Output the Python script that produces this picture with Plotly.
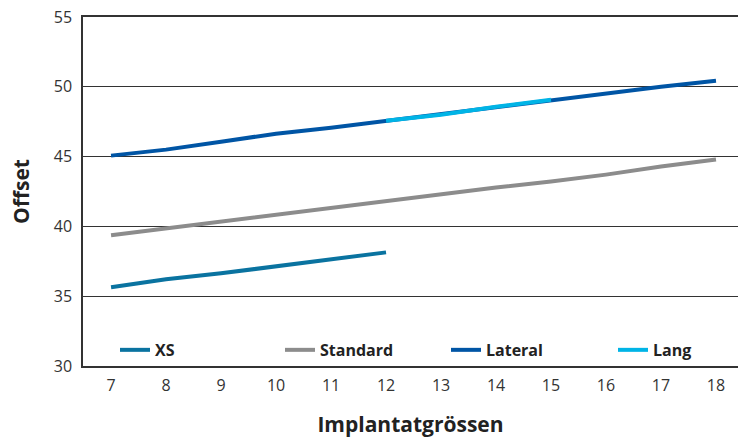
import plotly.graph_objects as go

sizes = [7, 8, 9, 10, 11, 12, 13, 14, 15, 16, 17, 18]
xs_sizes = [7, 8, 9, 10, 11, 12]
xs_vals = [35.64, 36.21, 36.64, 37.14, 37.57, 38.14]
standard_vals = [39.36, 39.86, 40.36, 40.86, 41.29, 41.79, 42.29, 42.79, 43.21, 43.71, 44.29, 44.79]
lateral_vals = [45.07, 45.5, 46.07, 46.64, 47.07, 47.57, 48.0, 48.57, 49.07, 49.57, 50.0, 50.43]
lang_sizes = [12, 13, 14, 15]
lang_vals = [47.57, 48.0, 48.57, 49.07]

font = "Open Sans"
fig = go.Figure()
fig.add_trace(go.Scatter(x=xs_sizes, y=xs_vals, mode="lines", name="XS", legend="legend",
                         line=dict(color="#0a73a0", width=4)))
fig.add_trace(go.Scatter(x=sizes, y=standard_vals, mode="lines", name="Standard", legend="legend2",
                         line=dict(color="#8c8c8c", width=4)))
fig.add_trace(go.Scatter(x=sizes, y=lateral_vals, mode="lines", name="Lateral", legend="legend3",
                         line=dict(color="#0055a5", width=4)))
fig.add_trace(go.Scatter(x=lang_sizes, y=lang_vals, mode="lines", name="Lang", legend="legend4",
                         line=dict(color="#00b4e6", width=4)))

def leg(xpx):
    return dict(x=(xpx - 83) / 655, xanchor="left", y=0.046, yanchor="middle",
                font=dict(family=font, size=16, color="#222222", weight="bold"),
                bgcolor="rgba(0,0,0,0)", borderwidth=0)

fig.update_layout(
    width=738, height=438,
    margin=dict(l=83, r=0, t=17, b=72),
    paper_bgcolor="white", plot_bgcolor="white",
    font=dict(family=font, color="#333333", size=16),
    showlegend=True,
    legend=leg(115), legend2=leg(280), legend3=leg(446), legend4=leg(613),
    xaxis=dict(range=[6.49, 18.4], tickmode="array", tickvals=sizes, automargin=False,
               ticktext=[str(s) for s in sizes], showgrid=False, zeroline=False,
               showline=True, linecolor="#333333", linewidth=1.5, mirror=True,
               ticks="", ticklabelstandoff=4, ticklabeloverflow="allow",
               tickfont=dict(size=16, color="#333333"),
               title=dict(text="Implantatgrössen", standoff=26,
                          font=dict(family=font, size=21, color="#222222", weight="bold"))),
    yaxis=dict(range=[30, 55], dtick=5, showgrid=True, gridcolor="#333333", gridwidth=1,
               zeroline=False, showline=True, linecolor="#333333", linewidth=1.5, automargin=False,
               ticks="", ticklabelstandoff=6, ticklabeloverflow="allow",
               tickfont=dict(size=16, color="#333333"),
               title=dict(text="Offset", standoff=18,
                          font=dict(family=font, size=21, color="#222222", weight="bold"))),
)
fig.write_html("out.html", config={"displayModeBar": False},
               post_script="document.body.style.margin='0';")
